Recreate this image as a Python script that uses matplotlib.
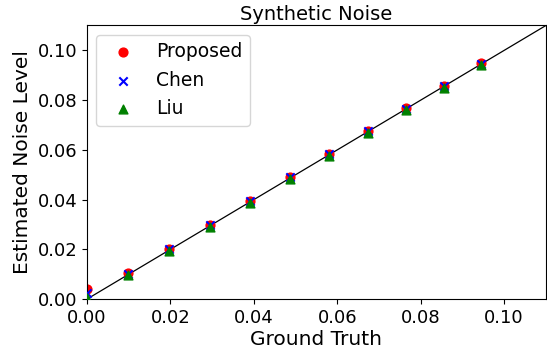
import matplotlib
matplotlib.use("Agg")
import matplotlib.pyplot as plt

# ground truth noise levels and estimates
truth = [0.0, 0.0098, 0.0197, 0.0295, 0.0391, 0.0487, 0.0581, 0.0673, 0.0764, 0.0855, 0.0945]
proposed = [0.0040, 0.0107, 0.0203, 0.0300, 0.0395, 0.0490, 0.0585, 0.0677, 0.0768, 0.0857, 0.0950]
chen = [0.0025, 0.0103, 0.0200, 0.0297, 0.0393, 0.0489, 0.0583, 0.0675, 0.0765, 0.0856, 0.0947]
liu = [0.0005, 0.0096, 0.0194, 0.0290, 0.0386, 0.0483, 0.0576, 0.0668, 0.0760, 0.0850, 0.0940]

fig = plt.figure(figsize=(5.47, 3.54), dpi=100)
ax = fig.add_axes([0.159, 0.155, 0.839, 0.773])

ax.plot([0, 0.11], [0, 0.11], color="black", linewidth=0.9, zorder=1)
ax.scatter(truth, proposed, color="red", marker="o", s=40, label="Proposed", zorder=2)
ax.scatter(truth, chen, color="blue", marker="x", s=36, label="Chen", zorder=3)
ax.scatter(truth, liu, color="green", marker="^", s=40, label="Liu", zorder=4)

ax.set_xlim(0, 0.11)
ax.set_ylim(0, 0.11)
ax.set_xticks([0, 0.02, 0.04, 0.06, 0.08, 0.10])
ax.set_yticks([0, 0.02, 0.04, 0.06, 0.08, 0.10])
ax.tick_params(labelsize=13)
ax.set_xlabel("Ground Truth", fontsize=14.5, labelpad=2)
ax.set_ylabel("Estimated Noise Level", fontsize=14.5)
ax.set_title("Synthetic Noise", fontsize=14, pad=4)
ax.legend(loc="upper left", fontsize=13.5)

fig.savefig("out.png", dpi=100)
